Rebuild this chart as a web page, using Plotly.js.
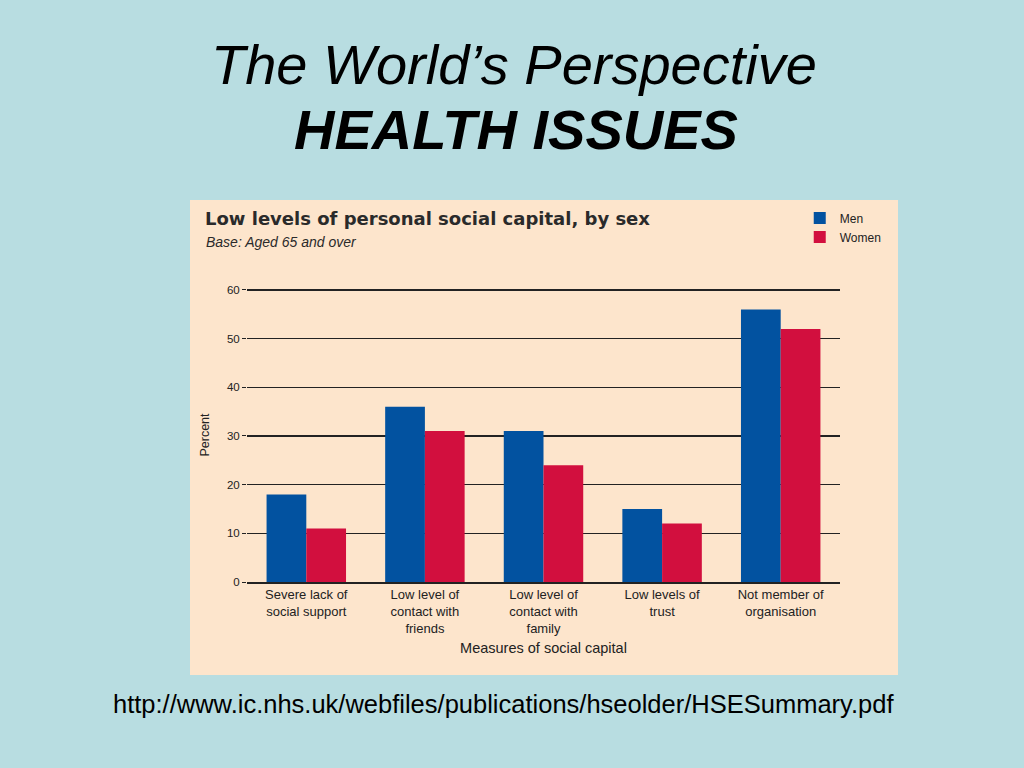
<!DOCTYPE html>
<html><head><meta charset="utf-8">
<script src="https://cdn.plot.ly/plotly-3.0.1.min.js"></script>
<style>html,body{margin:0;padding:0;background:#b8dde1;}#c{width:1024px;height:768px;}</style>
</head><body><div id="c"></div>
<script>
const categories = ["Severe lack of<br>social support", "Low level of<br>contact with<br>friends", "Low level of<br>contact with<br>family", "Low levels of<br>trust", "Not member of<br>organisation"];
const men = [18, 36, 31, 15, 56];
const women = [11, 31, 24, 12, 52];
const yTicks = [0, 10, 20, 30, 40, 50, 60];

const L = 247, R = 840, T = 288, B = 582;
const px = x => (x - L) / (R - L);
const py = y => (B - y) / (B - T);
const cream = '#fde5cc';
const sans = '"Liberation Sans", Arial, sans-serif';

const traces = [
  {type: 'bar', name: 'Men', x: categories, y: men, marker: {color: '#0252a0', line: {width: 0}}},
  {type: 'bar', name: 'Women', x: categories, y: women, marker: {color: '#d20f3e', line: {width: 0}}}
];

const layout = {
  width: 1024, height: 768,
  margin: {l: L, r: 1024 - R, t: T, b: 768 - B, autoexpand: false},
  paper_bgcolor: '#b8dde1',
  plot_bgcolor: cream,
  barmode: 'group', bargap: 0.33, bargroupgap: 0,
  showlegend: true,
  legend: {xref: 'container', yref: 'container', x: 0.781, y: 0.735, xanchor: 'left', yanchor: 'top',
           bgcolor: 'rgba(0,0,0,0)', font: {family: sans, size: 12, color: '#222'},
           itemwidth: 30, tracegroupgap: 0},
  font: {family: sans, color: '#222'},
  xaxis: {type: 'category', range: [-0.5, 4.5], showgrid: false, showline: true, linecolor: '#222', linewidth: 1.5,
          ticks: '', tickfont: {family: sans, size: 13, color: '#222'},
          title: {text: 'Measures of social capital', font: {family: sans, size: 14.5, color: '#222'}, standoff: 8}},
  yaxis: {range: [0, 60.4], tickvals: yTicks, showgrid: true, gridcolor: '#222', gridwidth: 1.5,
          zeroline: false, showline: false, ticks: 'outside', ticklen: 4, tickcolor: '#222',
          tickfont: {family: sans, size: 11.5, color: '#222'},
          title: {text: 'Percent', font: {family: sans, size: 12.5, color: '#222'}, standoff: 14}},
  shapes: [
    {type: 'rect', xref: 'paper', yref: 'paper', x0: px(190), x1: px(898), y0: py(675), y1: py(200),
     fillcolor: cream, line: {width: 0}, layer: 'below'}
  ],
  annotations: [
    {xref: 'paper', yref: 'paper', x: px(514), y: py(65), text: "<i>The World’s Perspective</i>", showarrow: false,
     font: {family: sans, size: 56, color: '#000'}, xanchor: 'center', yanchor: 'middle'},
    {xref: 'paper', yref: 'paper', x: px(516), y: py(129), text: "<b><i>HEALTH ISSUES</i></b>", showarrow: false,
     font: {family: sans, size: 56, color: '#000'}, xanchor: 'center', yanchor: 'middle'},
    {xref: 'paper', yref: 'paper', x: px(203), y: py(218), text: "<b>Low levels of personal social capital, by sex</b>", showarrow: false,
     font: {family: '"DejaVu Sans", sans-serif', size: 18, color: '#2a2a2a'}, xanchor: 'left', yanchor: 'middle'},
    {xref: 'paper', yref: 'paper', x: px(204), y: py(242), text: "<i>Base: Aged 65 and over</i>", showarrow: false,
     font: {family: sans, size: 14, color: '#2a2a2a'}, xanchor: 'left', yanchor: 'middle'},
    {xref: 'paper', yref: 'paper', x: px(503), y: py(704), text: "http://www.ic.nhs.uk/webfiles/publications/hseolder/HSESummary.pdf", showarrow: false,
     font: {family: sans, size: 25.5, color: '#000'}, xanchor: 'center', yanchor: 'middle'}
  ]
};

Plotly.newPlot('c', traces, layout, {displayModeBar: false, staticPlot: true});
</script></body></html>
